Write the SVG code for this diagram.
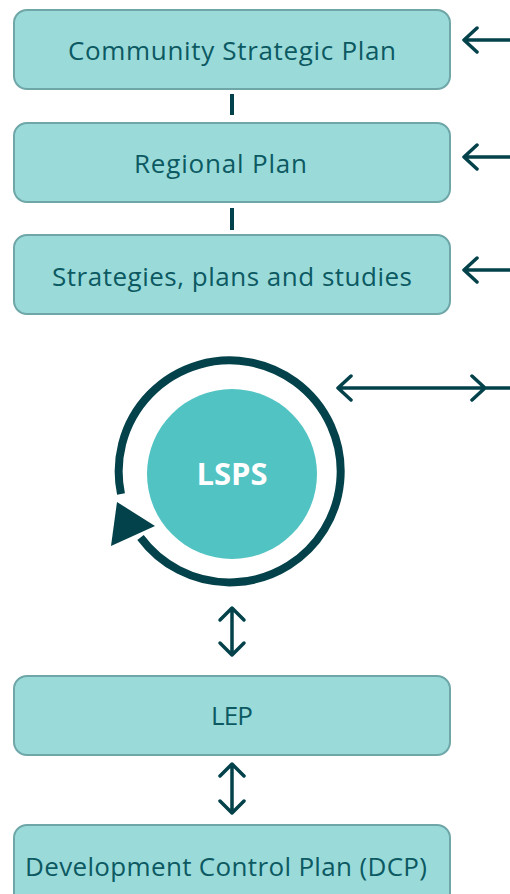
<svg xmlns="http://www.w3.org/2000/svg" width="510" height="894" viewBox="0 0 510 894">
<defs>
<style>
.box{fill:#9adbda;stroke:#6fa6a8;stroke-width:2}
.lbl{font-family:"Open Sans","Noto Sans",sans-serif;font-size:26px;fill:#0c5962}
.ln{stroke:#03424a;stroke-width:3.5;fill:none;stroke-linecap:round;stroke-linejoin:round}
.bar{stroke:#03424a;stroke-width:4;fill:none}
</style>
</defs>
<rect width="510" height="894" fill="#ffffff"/>
<g id="csp"><rect class="box" x="14" y="10" width="436" height="79" rx="13"/><text class="lbl" x="68" y="60" textLength="328" lengthAdjust="spacing">Community Strategic Plan</text></g>
<g id="regional"><rect class="box" x="14" y="123" width="436" height="79" rx="13"/><text class="lbl" x="134" y="173" textLength="173" lengthAdjust="spacing">Regional Plan</text></g>
<g id="strategies"><rect class="box" x="14" y="235" width="436" height="79" rx="13"/><text class="lbl" x="52" y="286" textLength="360" lengthAdjust="spacing">Strategies, plans and studies</text></g>
<g id="lsps">
<circle cx="232" cy="474" r="85" fill="#52c3c3"/>
<path d="M 140.5 537.5 A 111 111 0 1 0 121 494" fill="none" stroke="#03424a" stroke-width="8"/>
<polygon points="117,502 155,526 111,546" fill="#03424a"/>
<text x="232" y="485" font-family="'Open Sans','Noto Sans',sans-serif" font-weight="bold" font-size="31" fill="#ffffff" text-anchor="middle">LSPS</text>
</g>
<g id="lep"><rect class="box" x="14" y="676" width="436" height="79" rx="13"/><text class="lbl" x="211" y="725" textLength="42" lengthAdjust="spacing">LEP</text></g>
<g id="dcp"><rect class="box" x="14" y="825" width="436" height="90" rx="13"/><text class="lbl" x="25" y="876" textLength="402" lengthAdjust="spacing">Development Control Plan (DCP)</text></g>
<g id="connectors">
<line class="bar" x1="232" y1="94" x2="232" y2="115"/>
<line class="bar" x1="232" y1="208" x2="232" y2="230"/>
<path class="ln" d="M464 40 H510 M477 28 L464 40 L477 52"/>
<path class="ln" d="M464 157 H510 M477 145 L464 157 L477 169"/>
<path class="ln" d="M464 270 H510 M477 258 L464 270 L477 282"/>
<path class="ln" d="M338 388 H510 M351 376 L338 388 L351 400 M472 376 L485 388 L472 400"/>
<path class="ln" d="M232 608 V655 M220 620 L232 608 L244 620 M220 643 L232 655 L244 643"/>
<path class="ln" d="M232 764 V813 M220 776 L232 764 L244 776 M220 801 L232 813 L244 801"/>
</g>
</svg>
